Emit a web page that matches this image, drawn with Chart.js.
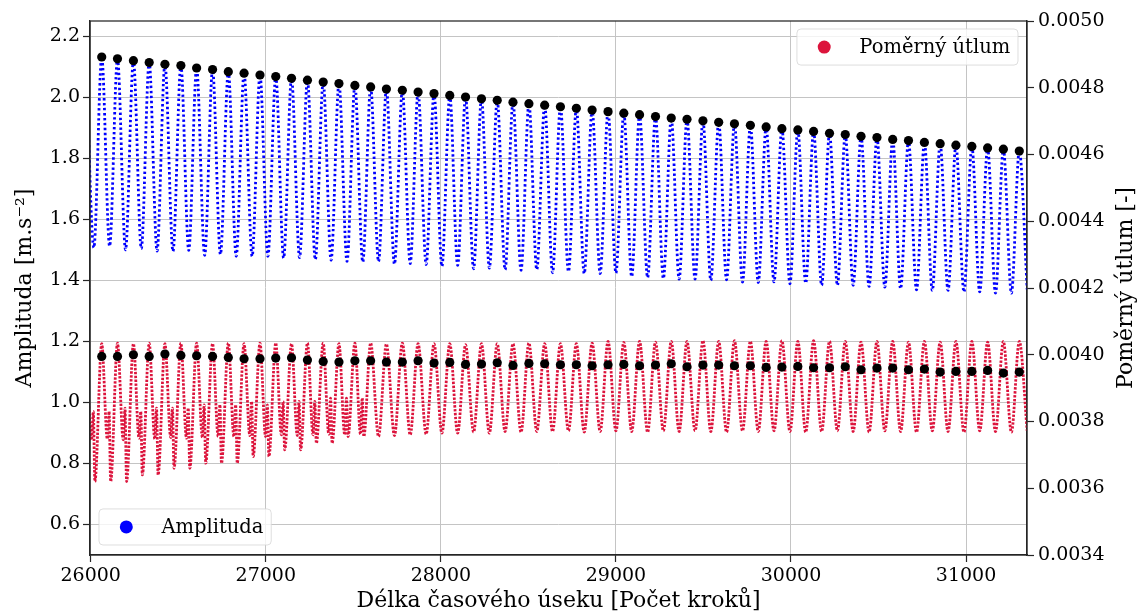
<!DOCTYPE html>
<html lang="cs">
<head>
<meta charset="utf-8">
<title>Amplituda a poměrný útlum</title>
<script src="https://cdn.jsdelivr.net/npm/chart.js@4.4.1/dist/chart.umd.min.js"></script>
<style>
    html, body { margin: 0; padding: 0; background: #fff; }
    #chart-wrap { width: 1140px; height: 615px; position: relative; }
</style>
</head>
<body>
<div id="chart-wrap"><canvas id="utlum-chart"></canvas></div>
<script>
// Osa x - kroky, kde má amplituda maximum (černé body)
const peakSteps = [
    26063, 26153, 26244, 26334, 26424, 26515, 26605, 26696, 26786, 26876,
    26967, 27057, 27147, 27238, 27328, 27418, 27509, 27599, 27689, 27780,
    27870, 27961, 28051, 28141, 28232, 28322, 28412, 28503, 28593, 28683,
    28774, 28864, 28955, 29045, 29135, 29226, 29316, 29406, 29497, 29587,
    29677, 29768, 29858, 29948, 30039, 30129, 30220, 30310, 30400, 30491,
    30581, 30671, 30762, 30852, 30942, 31033, 31123, 31213, 31304
];
// Kroky minim amplitudy (před každým maximem + jedno za posledním)
const troughSteps = [
    26018, 26108, 26199, 26289, 26379, 26470, 26560, 26651, 26741, 26831,
    26922, 27012, 27102, 27193, 27283, 27373, 27464, 27554, 27644, 27735,
    27825, 27916, 28006, 28096, 28187, 28277, 28367, 28458, 28548, 28638,
    28729, 28819, 28910, 29000, 29090, 29181, 29271, 29361, 29452, 29542,
    29632, 29723, 29813, 29903, 29994, 30084, 30175, 30265, 30355, 30446,
    30536, 30626, 30717, 30807, 30897, 30988, 31078, 31168, 31259, 31349
];
const amplitudePeaks = [
    2.132, 2.126, 2.120, 2.114, 2.108, 2.104, 2.096, 2.091, 2.084, 2.079,
    2.073, 2.068, 2.062, 2.056, 2.050, 2.045, 2.039, 2.034, 2.027, 2.023,
    2.017, 2.012, 2.006, 2.001, 1.995, 1.990, 1.984, 1.979, 1.974, 1.969,
    1.964, 1.958, 1.953, 1.948, 1.943, 1.937, 1.932, 1.928, 1.923, 1.918,
    1.913, 1.908, 1.903, 1.897, 1.893, 1.888, 1.882, 1.878, 1.872, 1.868,
    1.862, 1.858, 1.852, 1.848, 1.843, 1.839, 1.834, 1.830, 1.824
];
const amplitudeTroughs = [
    1.507, 1.512, 1.500, 1.504, 1.496, 1.495, 1.498, 1.482, 1.485, 1.479,
    1.479, 1.479, 1.473, 1.475, 1.468, 1.466, 1.462, 1.460, 1.462, 1.453,
    1.455, 1.452, 1.446, 1.449, 1.438, 1.440, 1.435, 1.433, 1.435, 1.425,
    1.429, 1.422, 1.422, 1.424, 1.412, 1.409, 1.406, 1.404, 1.404, 1.400,
    1.402, 1.394, 1.393, 1.395, 1.389, 1.391, 1.384, 1.384, 1.384, 1.380,
    1.378, 1.373, 1.369, 1.367, 1.367, 1.362, 1.362, 1.358, 1.358, 1.370
];

// Poměrný útlum - černé body a maxima/minima červeného průběhu
const ratioMarks = [
    0.003995, 0.003995, 0.004000, 0.003995, 0.004002, 0.003998, 0.003997, 0.003995, 0.003992, 0.003988,
    0.003988, 0.003990, 0.003991, 0.003984, 0.003980, 0.003978, 0.003982, 0.003982, 0.003978, 0.003978,
    0.003982, 0.003975, 0.003977, 0.003971, 0.003972, 0.003976, 0.003968, 0.003974, 0.003973, 0.003970,
    0.003970, 0.003967, 0.003970, 0.003971, 0.003967, 0.003969, 0.003973, 0.003964, 0.003969, 0.003969,
    0.003967, 0.003967, 0.003962, 0.003963, 0.003965, 0.003961, 0.003961, 0.003964, 0.003955, 0.003960,
    0.003960, 0.003955, 0.003957, 0.003948, 0.003950, 0.003950, 0.003953, 0.003945, 0.003948
];
const ratioPeaks = [
    0.004033, 0.004035, 0.004033, 0.004035, 0.004033, 0.004035, 0.004035, 0.004033, 0.004035, 0.004033,
    0.004035, 0.004035, 0.004033, 0.004035, 0.004035, 0.004033, 0.004035, 0.004035, 0.004032, 0.004035,
    0.004033, 0.004033, 0.004033, 0.004030, 0.004033, 0.004033, 0.004033, 0.004035, 0.004033, 0.004033,
    0.004033, 0.004035, 0.004040, 0.004037, 0.004040, 0.004038, 0.004040, 0.004040, 0.004042, 0.004040,
    0.004042, 0.004040, 0.004040, 0.004042, 0.004040, 0.004042, 0.004040, 0.004040, 0.004038, 0.004040,
    0.004040, 0.004038, 0.004040, 0.004038, 0.004040, 0.004040, 0.004038, 0.004040, 0.004040
];
const ratioTroughSteps = [
    26005, 26095, 26186, 26276, 26366, 26457, 26547, 26638, 26728, 26818,
    26909, 26999, 27089, 27180, 27270, 27360, 27451, 27541, 27644, 27735,
    27825, 27916, 28006, 28096, 28187, 28277, 28367, 28458, 28548, 28638,
    28729, 28819, 28910, 29000, 29090, 29181, 29271, 29361, 29452, 29542,
    29632, 29723, 29813, 29903, 29994, 30084, 30175, 30265, 30355, 30446,
    30536, 30626, 30717, 30807, 30897, 30988, 31078, 31168, 31259, 31349
];
const ratioTroughs = [
    0.003745, 0.003748, 0.003745, 0.003750, 0.003748, 0.003752, 0.003750, 0.003752, 0.003755, 0.003755,
    0.003758, 0.003755, 0.003760, 0.003758, 0.003760, 0.003762, 0.003760, 0.003762, 0.003755, 0.003758,
    0.003760, 0.003762, 0.003765, 0.003765, 0.003768, 0.003765, 0.003770, 0.003768, 0.003770, 0.003770,
    0.003772, 0.003768, 0.003770, 0.003772, 0.003770, 0.003768, 0.003772, 0.003770, 0.003772, 0.003770,
    0.003768, 0.003772, 0.003770, 0.003772, 0.003770, 0.003768, 0.003770, 0.003772, 0.003770, 0.003768,
    0.003772, 0.003770, 0.003768, 0.003772, 0.003770, 0.003768, 0.003772, 0.003770, 0.003768, 0.003772
];
// Prvních 18 period má za minimem malý hrb a hluboký propad
const shoulderSteps = [
    26015, 26105, 26196, 26286, 26376, 26467, 26557, 26648, 26738, 26828,
    26919, 27009, 27099, 27190, 27280, 27370, 27461, 27551
];
const shoulderValues = [
    0.003830, 0.003830, 0.003840, 0.003830, 0.003840, 0.003840, 0.003840, 0.003850, 0.003850, 0.003850,
    0.003860, 0.003850, 0.003860, 0.003860, 0.003860, 0.003870, 0.003870, 0.003870
];
const dipSteps = [
    26024, 26114, 26205, 26295, 26385, 26476, 26566, 26657, 26747, 26837,
    26928, 27018, 27108, 27199, 27289, 27379, 27470, 27560
];
const dipValues = [
    0.003620, 0.003620, 0.003620, 0.003640, 0.003640, 0.003660, 0.003660, 0.003675, 0.003675, 0.003675,
    0.003695, 0.003695, 0.003715, 0.003715, 0.003735, 0.003735, 0.003755, 0.003755
];
// Předchozí maximum vlevo mimo graf (jen pro náběh křivek)
const leadStep = 25973;
const leadAmplitude = 2.138;
const leadRatio = 0.004033;

// Popisky os
const stepTicks = [26000, 27000, 28000, 29000, 30000, 31000];
const amplitudeTicks = [0.6, 0.8, 1.0, 1.2, 1.4, 1.6, 1.8, 2.0, 2.2];
const ratioTicks = [0.0034, 0.0036, 0.0038, 0.0040, 0.0042, 0.0044, 0.0046, 0.0048, 0.0050];

const BLUE = '#0000ff';
const CRIMSON = '#dc143c';
const SPINE = '#262626';
const GRID = '#c4c4c4';
const FONT = 'DejaVu Serif';

/**
 * Graf amplitudy a poměrného útlumu
 */
class UtlumChart {
    constructor() {
        this.chart = null;
    }

    /**
     * Spojí několik řad bodů a seřadí je podle kroku
     */
    mergePoints(parts) {
        const points = [];
        parts.forEach(([steps, values]) => {
            steps.forEach((s, i) => points.push({ x: s, y: values[i] }));
        });
        return points.sort((a, b) => a.x - b.x);
    }

    amplitudeLine() {
        return this.mergePoints([
            [[leadStep], [leadAmplitude]],
            [peakSteps, amplitudePeaks],
            [troughSteps, amplitudeTroughs]
        ]);
    }

    ratioLine() {
        return this.mergePoints([
            [[leadStep], [leadRatio]],
            [peakSteps, ratioPeaks],
            [ratioTroughSteps, ratioTroughs],
            [shoulderSteps, shoulderValues],
            [dipSteps, dipValues]
        ]);
    }

    /**
     * Legenda ve stylu matplotlib
     */
    drawLegend(ctx, x, y, anchor, color, text) {
        const em = 19.5;
        ctx.font = `${em}px "${FONT}"`;
        const w = ctx.measureText(text).width + 3.6 * em;
        const h = 1.85 * em;
        const left = anchor.includes('right') ? x - w : x;
        const top = anchor.includes('bottom') ? y - h : y;

        ctx.beginPath();
        if (ctx.roundRect) ctx.roundRect(left, top, w, h, 4);
        else ctx.rect(left, top, w, h);
        ctx.fillStyle = 'rgba(255,255,255,0.8)';
        ctx.fill();
        ctx.strokeStyle = 'rgba(214,214,214,0.8)';
        ctx.lineWidth = 1;
        ctx.stroke();

        ctx.beginPath();
        ctx.arc(left + 1.4 * em, top + h / 2, 6.5, 0, Math.PI * 2);
        ctx.fillStyle = color;
        ctx.fill();

        ctx.fillStyle = '#000';
        ctx.textAlign = 'left';
        ctx.textBaseline = 'middle';
        ctx.fillText(text, left + 3.2 * em, top + h / 2 + 1);
    }

    decorPlugin() {
        const self = this;
        return {
            id: 'decor',
            afterDraw(chart) {
                const { ctx, chartArea: a } = chart;
                ctx.save();
                // rámeček os
                ctx.strokeStyle = SPINE;
                ctx.lineWidth = 1.25;
                ctx.strokeRect(a.left, a.top, a.right - a.left, a.bottom - a.top);

                self.drawLegend(ctx, a.left + 9, a.bottom - 10, 'bottom-left', BLUE, 'Amplituda');
                self.drawLegend(ctx, a.right - 9, a.top + 8, 'top-right', CRIMSON, 'Poměrný útlum');

                // popisek pravé osy (čte se zdola nahoru)
                ctx.translate(1126, (a.top + a.bottom) / 2);
                ctx.rotate(-Math.PI / 2);
                ctx.font = `22px "${FONT}"`;
                ctx.fillStyle = '#000';
                ctx.textAlign = 'center';
                ctx.textBaseline = 'middle';
                ctx.fillText('Poměrný útlum [-]', 0, 0);
                ctx.restore();
            }
        };
    }

    render() {
        Chart.defaults.font.family = FONT;
        Chart.defaults.font.size = 19;
        Chart.defaults.color = '#000';

        const ctx = document.getElementById('utlum-chart').getContext('2d');
        if (this.chart) {
            this.chart.destroy();
        }

        const tickGrid = (show) => ({
            display: true,
            drawOnChartArea: show,
            color: GRID,
            lineWidth: 1,
            tickLength: 7,
            tickColor: SPINE,
            tickWidth: 1.2
        });

        this.chart = new Chart(ctx, {
            type: 'line',
            data: {
                datasets: [
                    {
                        label: 'Amplituda - maxima',
                        data: peakSteps.map((s, i) => ({ x: s, y: amplitudePeaks[i] })),
                        yAxisID: 'y',
                        showLine: false,
                        pointRadius: 4.6,
                        pointBackgroundColor: '#000',
                        pointBorderWidth: 0,
                        order: 1
                    },
                    {
                        label: 'Poměrný útlum - body',
                        data: peakSteps.map((s, i) => ({ x: s, y: ratioMarks[i] })),
                        yAxisID: 'y1',
                        showLine: false,
                        pointRadius: 4.6,
                        pointBackgroundColor: '#000',
                        pointBorderWidth: 0,
                        order: 1
                    },
                    {
                        label: 'Amplituda',
                        data: this.amplitudeLine(),
                        yAxisID: 'y',
                        borderColor: BLUE,
                        borderWidth: 2.8,
                        borderDash: [2.4, 2.6],
                        cubicInterpolationMode: 'monotone',
                        pointRadius: 0,
                        fill: false,
                        order: 2
                    },
                    {
                        label: 'Poměrný útlum',
                        data: this.ratioLine(),
                        yAxisID: 'y1',
                        borderColor: CRIMSON,
                        borderWidth: 2.8,
                        borderDash: [2.4, 1.5],
                        cubicInterpolationMode: 'monotone',
                        pointRadius: 0,
                        fill: false,
                        order: 2
                    }
                ]
            },
            options: {
                responsive: true,
                maintainAspectRatio: false,
                animation: false,
                devicePixelRatio: 1,
                layout: { padding: { top: 21, left: 0, right: 0, bottom: 0 } },
                plugins: {
                    legend: { display: false },
                    tooltip: { enabled: false }
                },
                scales: {
                    x: {
                        type: 'linear',
                        min: 25996,
                        max: 31348,
                        afterBuildTicks: axis => { axis.ticks = stepTicks.map(v => ({ value: v })); },
                        afterFit: axis => { axis.height = 60; },
                        ticks: { padding: 3, autoSkip: false, maxRotation: 0, callback: v => String(v) },
                        grid: tickGrid(true),
                        border: { color: SPINE, width: 1.25 },
                        title: {
                            display: true,
                            text: 'Délka časového úseku [Počet kroků]',
                            font: { size: 22 },
                            padding: { top: 0, bottom: 1 }
                        }
                    },
                    y: {
                        position: 'left',
                        min: 0.5,
                        max: 2.25,
                        afterBuildTicks: axis => { axis.ticks = amplitudeTicks.map(v => ({ value: v })); },
                        afterFit: axis => { axis.width = 90; },
                        ticks: { padding: 3, callback: v => v.toFixed(1) },
                        grid: tickGrid(true),
                        border: { color: SPINE, width: 1.25 },
                        title: {
                            display: true,
                            text: 'Amplituda [m.s⁻²]',
                            font: { size: 22 },
                            padding: { top: 12, bottom: 0 }
                        }
                    },
                    y1: {
                        position: 'right',
                        min: 0.0034,
                        max: 0.0050,
                        afterBuildTicks: axis => { axis.ticks = ratioTicks.map(v => ({ value: v })); },
                        afterFit: axis => { axis.width = 113; },
                        ticks: { padding: 4, callback: v => v.toFixed(4) },
                        grid: tickGrid(false),
                        border: { color: SPINE, width: 1.25 }
                    }
                }
            },
            plugins: [this.decorPlugin()]
        });
    }
}

const utlumChart = new UtlumChart();
utlumChart.render();
</script>
</body>
</html>
